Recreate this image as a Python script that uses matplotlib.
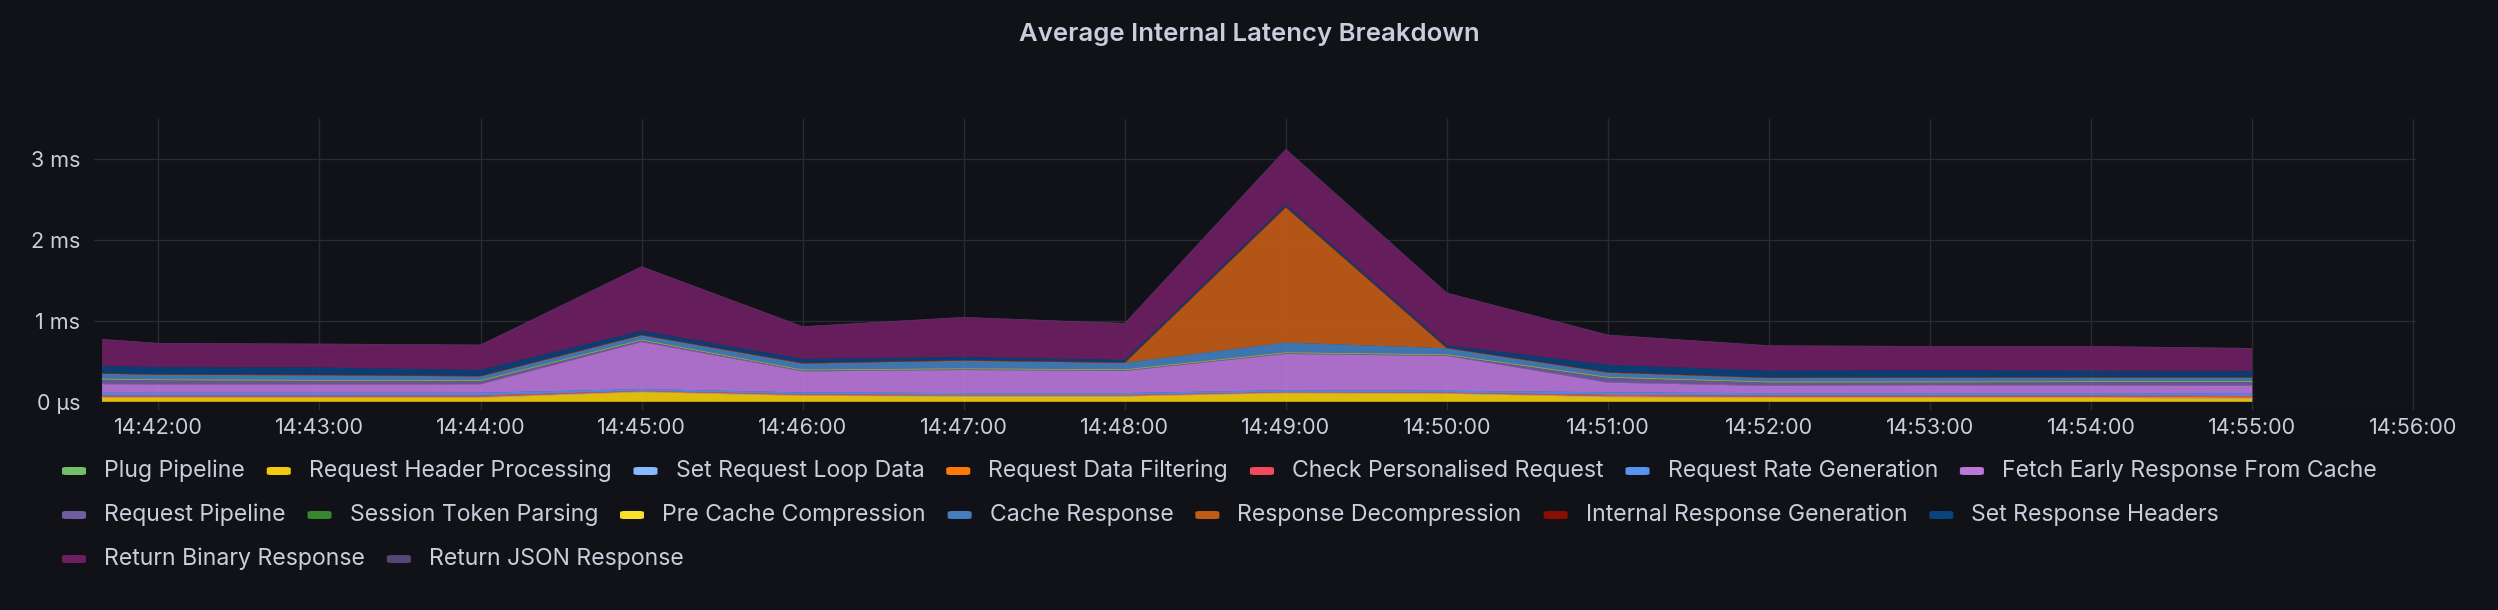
import numpy as np
import pandas as pd
import matplotlib
matplotlib.use("Agg")
import matplotlib.pyplot as plt
import matplotlib.dates as mdates
from matplotlib.patches import FancyBboxPatch

plt.rcParams['font.family'] = ['Inter', 'DejaVu Sans']

# sample times (one per minute, first one partial)
times = ["14:41:39", "14:42:00", "14:43:00", "14:44:00", "14:45:00", "14:46:00", "14:47:00",
         "14:48:00", "14:49:00", "14:50:00", "14:51:00", "14:52:00", "14:53:00", "14:54:00", "14:55:00"]

# values in ms, stacked bottom to top in legend order
plug_pipeline = [0.002, 0.002, 0.002, 0.002, 0.002, 0.002, 0.002, 0.002, 0.002, 0.002, 0.002, 0.002, 0.002, 0.002, 0.002]
request_header = [0.049, 0.049, 0.049, 0.050, 0.120, 0.074, 0.066, 0.066, 0.107, 0.100, 0.058, 0.049, 0.049, 0.049, 0.041]
set_loop_data = [0.003, 0.003, 0.003, 0.003, 0.003, 0.003, 0.003, 0.003, 0.003, 0.003, 0.003, 0.003, 0.003, 0.003, 0.003]
data_filtering = [0.012, 0.012, 0.012, 0.012, 0.006, 0.008, 0.008, 0.008, 0.005, 0.005, 0.012, 0.012, 0.012, 0.012, 0.014]
check_personalised = [0.012, 0.012, 0.012, 0.012, 0.004, 0.006, 0.006, 0.006, 0.004, 0.004, 0.012, 0.012, 0.012, 0.012, 0.014]
rate_generation = [0.035, 0.035, 0.035, 0.035, 0.025, 0.025, 0.025, 0.025, 0.025, 0.025, 0.033, 0.030, 0.030, 0.030, 0.033]
fetch_early = [0.107, 0.103, 0.103, 0.103, 0.580, 0.260, 0.285, 0.273, 0.447, 0.429, 0.119, 0.090, 0.098, 0.094, 0.091]
request_pipeline = [0.058, 0.053, 0.047, 0.041, 0.020, 0.012, 0.010, 0.010, 0.010, 0.010, 0.061, 0.044, 0.036, 0.044, 0.048]
session_token = [0.003, 0.003, 0.003, 0.003, 0.003, 0.003, 0.003, 0.003, 0.003, 0.003, 0.003, 0.003, 0.003, 0.003, 0.003]
pre_cache = [0.002, 0.002, 0.002, 0.002, 0.002, 0.002, 0.002, 0.002, 0.002, 0.002, 0.002, 0.002, 0.002, 0.002, 0.002]
cache_response = [0.066, 0.062, 0.062, 0.053, 0.058, 0.080, 0.100, 0.085, 0.125, 0.080, 0.057, 0.049, 0.053, 0.049, 0.049]
decompression = [0.0, 0.0, 0.0, 0.0, 0.0, 0.0, 0.0, 0.0, 1.670, 0.0, 0.0, 0.0, 0.0, 0.0, 0.0]
internal_generation = [0.004, 0.004, 0.004, 0.004, 0.004, 0.004, 0.004, 0.004, 0.004, 0.004, 0.006, 0.004, 0.004, 0.004, 0.004]
response_headers = [0.090, 0.090, 0.090, 0.074, 0.050, 0.050, 0.040, 0.030, 0.029, 0.030, 0.089, 0.083, 0.086, 0.078, 0.074]
return_binary = [0.331, 0.294, 0.292, 0.310, 0.794, 0.401, 0.491, 0.453, 0.683, 0.648, 0.370, 0.312, 0.296, 0.304, 0.284]
return_json = [0.0, 0.0, 0.0, 0.0, 0.0, 0.0, 0.0, 0.0, 0.0, 0.0, 0.0, 0.0, 0.0, 0.0, 0.0]

names = ["Plug Pipeline", "Request Header Processing", "Set Request Loop Data", "Request Data Filtering",
         "Check Personalised Request", "Request Rate Generation", "Fetch Early Response From Cache",
         "Request Pipeline", "Session Token Parsing", "Pre Cache Compression", "Cache Response",
         "Response Decompression", "Internal Response Generation", "Set Response Headers",
         "Return Binary Response", "Return JSON Response"]
colors = ["#73BF69", "#F2CC0C", "#8AB8FF", "#FF780A", "#F2495C", "#5794F2", "#B877D9", "#705DA0",
          "#37872D", "#FADE2A", "#447EBC", "#C15C17", "#890F02", "#0A437C", "#6D1F62", "#584477"]

y_ticks = [0, 1, 2, 3]
y_ticklabels = ["0 \u03bcs", "1 ms", "2 ms", "3 ms"]

series = [plug_pipeline, request_header, set_loop_data, data_filtering, check_personalised,
          rate_generation, fetch_early, request_pipeline, session_token, pre_cache, cache_response,
          decompression, internal_generation, response_headers, return_binary, return_json]

bg = "#111217"
txt = "#CCCCDC"
grid = "#2a2b31"

x = pd.to_datetime(["2023-01-01 " + t for t in times])

W, H = 2498, 610
fig = plt.figure(figsize=(W / 100, H / 100), dpi=100, facecolor=bg)
ax = fig.add_axes([94 / W, 208 / H, (2416 - 94) / W, 283.5 / H])
ax.set_facecolor(bg)

ax.stackplot(x, *series, colors=colors, alpha=0.92, linewidth=0)
tops = np.cumsum(np.array(series), axis=0)
for top, c in zip(tops, colors):
    ax.plot(x, top, color=c, lw=0.5, alpha=0.6)

ax.set_xlim(pd.Timestamp("2023-01-01 14:41:36"), pd.Timestamp("2023-01-01 14:56:01"))
ax.set_ylim(0, 3.5)
ax.xaxis.set_major_locator(mdates.MinuteLocator())
ax.xaxis.set_major_formatter(mdates.DateFormatter("%H:%M:%S"))
ax.set_yticks(y_ticks)
ax.set_yticklabels(y_ticklabels)
ax.grid(True, color=grid, lw=1)
ax.set_axisbelow(True)
for s in ax.spines.values():
    s.set_visible(False)
ax.tick_params(axis="x", colors=grid, length=5.8, width=1, labelcolor=txt, labelsize=15.5, pad=6)
ax.tick_params(axis="y", length=0, labelcolor=txt, labelsize=15.5, pad=10)

fig.text(0.5, 1 - 35 / H, "Average Internal Latency Breakdown", ha="center", va="center",
         color=txt, fontsize=18.5, fontweight="semibold")

# legend, flowing left to right and wrapping like the dashboard
renderer = fig.canvas.get_renderer()
row_y = [471, 515, 559]
px, row = 62, 0
sw_w, sw_h, gap_sw, gap_item = 24, 8, 18, 22
for name, c in zip(names, colors):
    t = fig.text(0, 0, name, fontsize=16.6, color=txt, va="center", ha="left")
    tw = t.get_window_extent(renderer).width
    if px + sw_w + gap_sw + tw > W - 20:
        row += 1
        px = 62
    yy = row_y[row]
    fig.patches.append(FancyBboxPatch((px / W, (H - yy - sw_h / 2) / H), sw_w / W, sw_h / H,
                                      boxstyle="round,pad=0,rounding_size=0.002",
                                      transform=fig.transFigure, facecolor=c, edgecolor="none"))
    t.set_position(((px + sw_w + gap_sw) / W, (H - yy) / H))
    px += sw_w + gap_sw + tw + gap_item

fig.savefig("out.png", dpi=100, facecolor=bg)
